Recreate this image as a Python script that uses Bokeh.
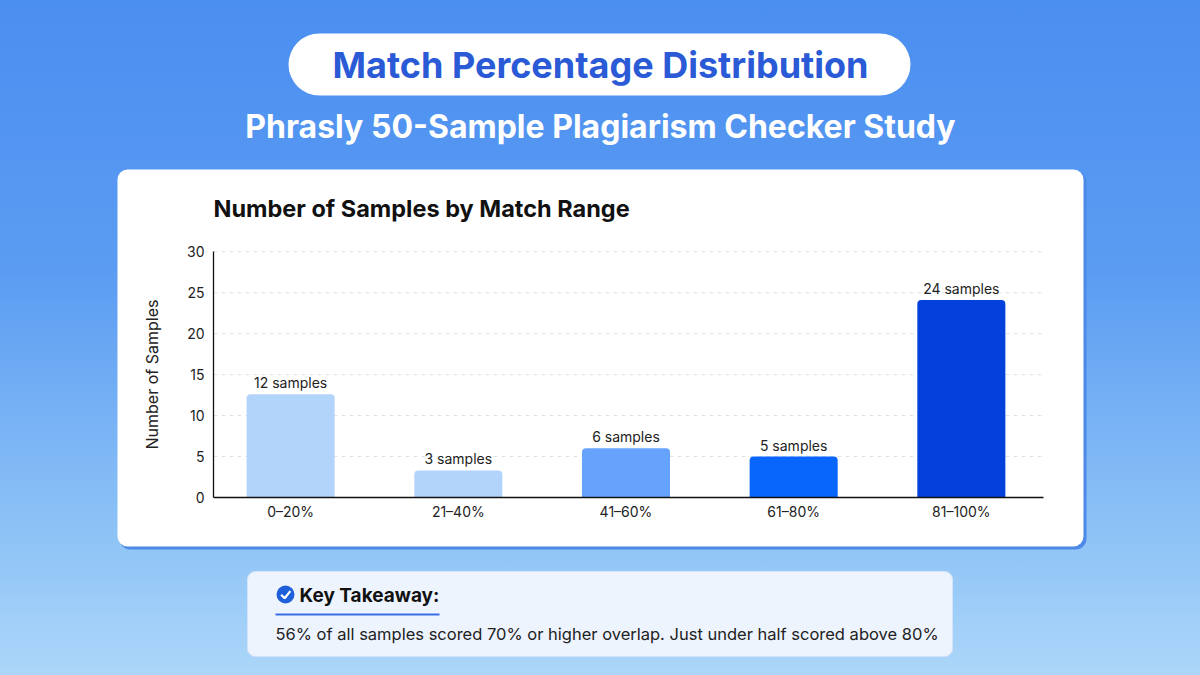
from bokeh.plotting import figure
from bokeh.models import Range1d, BoxAnnotation, Label, PolyAnnotation, LinearAxis, FixedTicker
from bokeh.core.properties import value
from bokeh.embed import file_html
from bokeh.resources import INLINE

# ---------------- data ----------------
categories = ["0–20%", "21–40%", "41–60%", "61–80%", "81–100%"]
bar_heights = [12.6, 3.3, 6, 5, 24.1]
sample_counts = [12, 3, 6, 5, 24]
bar_colors = ["#b2d4fa", "#b2d4fa", "#66a3fc", "#0866fd", "#0340dc"]
y_ticks = [0, 5, 10, 15, 20, 25, 30]

title_text = "Match Percentage Distribution"
subtitle_text = "Phrasly 50-Sample Plagiarism Checker Study"
chart_title = "Number of Samples by Match Range"
y_label = "Number of Samples"
takeaway_head = "Key Takeaway:"
takeaway_body = "56% of all samples scored 70% or higher overlap. Just under half scored above 80%"

# ---------------- layout (pixels) ----------------
W, H = 1200, 675
FL, FR, FT, FB = 213, 1043, 250, 497      # chart area inside the card
X_LO, X_HI = -0.46, 4.49                  # category axis extent
Y_LO, Y_HI = 0, 30.15                     # value axis extent
FONT = "Inter"

xs = list(range(len(categories)))

ppx = (FR - FL) / (X_HI - X_LO)
ppy = (FB - FT) / (Y_HI - Y_LO)

p = figure(width=W, height=H, output_backend="svg", toolbar_location=None,
           x_range=Range1d(0, W), y_range=Range1d(H, 0),
           x_axis_location=None, y_axis_location=None,
           min_border=0, min_border_left=0, min_border_right=0,
           min_border_top=0, min_border_bottom=0,
           background_fill_color=None, border_fill_color=None,
           outline_line_color=None,
           styles={"background": "linear-gradient(180deg, #4a8ef0 0%, #5b9cf2 40%, #8cc2f6 78%, #acd6f9 100%)"})
p.grid.visible = False

# chart scales, laid over the canvas so the chart area lands inside the card
p.extra_x_ranges = {"cat": Range1d(X_LO - FL / ppx, X_HI + (W - FR) / ppx)}
p.extra_y_ranges = {"val": Range1d(Y_LO - (H - FB) / ppy, Y_HI + FT / ppy)}


def box(l, r, t, b, color, radius=0, line=None, lw=1, level="annotation"):
    bx = BoxAnnotation(left=l, right=r, top=t, bottom=b,
                       fill_color=color, fill_alpha=1.0,
                       line_color=line, line_width=lw, line_alpha=1.0,
                       border_radius=radius, level=level)
    p.add_layout(bx)
    return bx


def label(x, y, text, size, color, bold=False, align="left"):
    lb = Label(x=x, y=y, text=text,
               text_font=FONT, text_font_size=size, text_color=color,
               text_font_style="bold" if bold else "normal",
               text_align=align, text_baseline="middle")
    p.add_layout(lb)
    return lb


# card with a soft blue shadow
box(119, 1086, 171, 549, "#4d89e6", radius=11, level="image")
box(117, 1083, 169, 546, "white", radius=10, level="image")

# title pill
box(288, 910, 33, 95, "white", radius=31)
label(600, 64, title_text, "36px", "#2a5ad5", bold=True, align="center")
label(600, 126, subtitle_text, "32px", "white", bold=True, align="center")
label(FL, 208, chart_title, "23.5px", "#111111", bold=True)

# key takeaway box
box(247, 952, 571, 656, "#eef4fe", radius=8, line="#d3e3f9")
box(276, 294, 585, 603, "#1f5fd9", radius=9)
chk = PolyAnnotation(xs=[280.6, 284.2, 289.8, 284.2], ys=[594.2, 597.8, 590.6, 597.8],
                     fill_color=None, line_color="white", line_width=2.2, line_alpha=1.0)
p.add_layout(chk)
label(299, 595, takeaway_head, "19px", "#111111", bold=True)
box(275, 439, 613, 615, "#3b6ee6")
label(275, 633, takeaway_body, "16.5px", "#222222")

# ---------------- gridlines ----------------
grid_vals = [t for t in y_ticks if t > 0]
p.segment(x0=[X_LO] * len(grid_vals), x1=[X_HI] * len(grid_vals), y0=grid_vals, y1=grid_vals,
          x_range_name="cat", y_range_name="val",
          line_color="#dde4ee", line_width=1, line_dash="4 4")

# ---------------- bars ----------------
p.vbar(x=xs, top=bar_heights, width=0.525, bottom=0,
       x_range_name="cat", y_range_name="val",
       fill_color=bar_colors, line_color=None, border_radius=(4, 4, 0, 0))
p.text(x=xs, y=bar_heights, text=[f"{c} samples" for c in sample_counts],
       x_range_name="cat", y_range_name="val",
       y_offset=-3, text_align="center", text_baseline="bottom",
       text_font=value(FONT), text_font_size="14px", text_color="#222222")

# ---------------- axes ----------------
yaxis = LinearAxis(x_range_name="cat", y_range_name="val", fixed_location=X_LO,
                   bounds=(Y_LO, 30), ticker=FixedTicker(ticks=y_ticks))
xaxis = LinearAxis(x_range_name="cat", y_range_name="val", fixed_location=Y_LO,
                   bounds=(X_LO, X_HI), ticker=FixedTicker(ticks=xs),
                   major_label_overrides={i: c for i, c in enumerate(categories)})
for ax in (xaxis, yaxis):
    ax.axis_line_color = "#111111"
    ax.axis_line_width = 1.3
    ax.major_tick_line_color = None
    ax.minor_tick_line_color = None
    ax.major_tick_out = 0
    ax.major_tick_in = 0
    ax.minor_tick_out = 0
    ax.minor_tick_in = 0
    ax.major_label_text_font = FONT
    ax.major_label_text_font_size = "14px"
    ax.major_label_text_color = "#222222"

yaxis.major_label_standoff = 9
yaxis.axis_label = y_label
yaxis.axis_label_text_font = FONT
yaxis.axis_label_text_font_size = "16px"
yaxis.axis_label_text_font_style = "normal"
yaxis.axis_label_text_color = "#222222"
yaxis.axis_label_standoff = 22
xaxis.major_label_standoff = 5

p.add_layout(yaxis, "left")
p.add_layout(xaxis, "below")

html = file_html(p, INLINE)
html = html.replace("</head>", "<style>html,body{margin:0;padding:0;overflow:hidden;}</style></head>", 1)
open("out.html", "w").write(html)
